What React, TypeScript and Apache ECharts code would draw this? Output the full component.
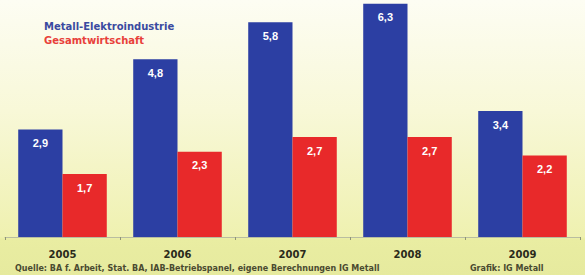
import React, { useEffect, useRef } from "react";
import * as echarts from "echarts";

const categories = ["2005", "2006", "2007", "2008", "2009"];
const metallValues = [2.9, 4.8, 5.8, 6.3, 3.4];
const gesamtValues = [1.7, 2.3, 2.7, 2.7, 2.2];
const seriesNames = ["Metall-Elektroindustrie", "Gesamtwirtschaft"];
const sourceText = "Quelle: BA f. Arbeit, Stat. BA, IAB-Betriebspanel, eigene Berechnungen IG Metall";
const creditText = "Grafik: IG Metall";

const fmt = (v: number) => v.toFixed(1).replace(".", ",");

export default function App() {
  const ref = useRef<HTMLDivElement>(null);
  useEffect(() => {
    if (!ref.current) return;
    const chart = echarts.init(ref.current, null, { renderer: "svg" });
    const labelCfg = {
      show: true,
      position: "insideTop" as const,
      distance: 8,
      color: "#ffffff",
      fontWeight: "bold" as const,
      fontSize: 11,
      fontFamily: "Liberation Sans, Arial, sans-serif",
      formatter: (p: any) => fmt(p.value),
    };
    chart.setOption({
      animation: false,
      backgroundColor: "transparent",
      grid: { left: 5, right: 5, top: 0, bottom: 38, containLabel: false },
      xAxis: {
        type: "category",
        data: categories,
        boundaryGap: true,
        axisLine: { show: true, lineStyle: { color: "#b9bda0", width: 1 } },
        axisTick: { show: true, length: 3, lineStyle: { color: "#8f9478" } },
        axisLabel: {
          color: "#2a2a1a",
          fontWeight: "bold",
          fontSize: 10,
          margin: 12,
          fontFamily: "DejaVu Sans, sans-serif",
        },
      },
      yAxis: {
        type: "value",
        min: 0,
        max: 6.4,
        show: false,
        splitLine: { show: false },
      },
      series: [
        {
          name: seriesNames[0],
          type: "bar",
          data: metallValues,
          barGap: "0%",
          barCategoryGap: "23%",
          itemStyle: { color: "#2c3fa3" },
          label: labelCfg,
        },
        {
          name: seriesNames[1],
          type: "bar",
          data: gesamtValues,
          itemStyle: { color: "#e8292a" },
          label: labelCfg,
        },
      ],
      graphic: [
        {
          type: "text",
          left: 44,
          top: 21,
          style: {
            text: seriesNames[0],
            fill: "#3a4aa0",
            font: "bold 10px DejaVu Sans, sans-serif",
          },
        },
        {
          type: "text",
          left: 44,
          top: 35,
          style: {
            text: seriesNames[1],
            fill: "#e8403a",
            font: "bold 10px DejaVu Sans, sans-serif",
          },
        },
        {
          type: "text",
          left: 15,
          top: 264,
          style: {
            text: sourceText,
            fill: "#4a4a30",
            font: "bold 8px DejaVu Sans, sans-serif",
          },
        },
        {
          type: "text",
          left: 470,
          top: 264,
          style: {
            text: creditText,
            fill: "#4a4a30",
            font: "bold 8px DejaVu Sans, sans-serif",
          },
        },
      ],
    });
    return () => chart.dispose();
  }, []);
  return (
    <div
      style={{
        position: "absolute",
        left: 0,
        top: 0,
        width: 585,
        height: 275,
        background:
          "linear-gradient(to bottom, #fdfdf3 0%, #f8f8d8 40%, #eff1b0 86%, #e9eda2 87%, #e6ea9e 100%)",
      }}
    >
      <div ref={ref} style={{ width: 585, height: 275 }} />
    </div>
  );
}
